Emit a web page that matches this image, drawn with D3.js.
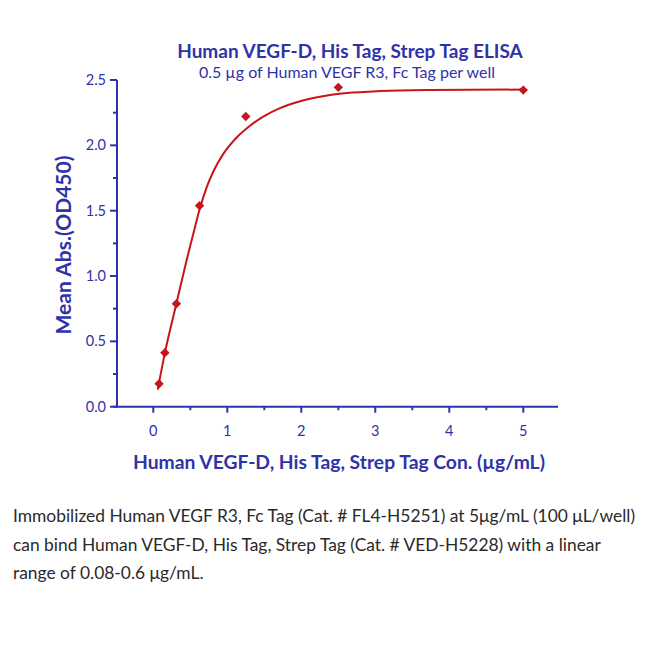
<!DOCTYPE html>
<html><head><meta charset="utf-8">
<script src="https://cdn.jsdelivr.net/npm/d3@7"></script>
<style>body{margin:0;background:#fff}svg{display:block}</style>
</head><body>
<svg id="c" width="650" height="650"></svg>
<script>
const concentrations = [0.078, 0.156, 0.3125, 0.625, 1.25, 2.5, 5];
const meanAbs = [0.176, 0.413, 0.788, 1.538, 2.221, 2.444, 2.423];
const fitX = [0.06, 0.156, 0.3125, 0.45, 0.53, 0.631, 0.722, 0.811, 0.946, 1.127, 1.307, 1.486, 1.712, 1.938, 2.162, 2.388, 2.614, 3.063, 3.739, 5.0];
const fitY = [0.13, 0.41, 0.79, 1.12, 1.30, 1.52, 1.68, 1.80, 1.935, 2.06, 2.15, 2.22, 2.285, 2.33, 2.362, 2.385, 2.40, 2.415, 2.423, 2.427];
const xTicks = [0, 1, 2, 3, 4, 5];
const yTicks = [0.0, 0.5, 1.0, 1.5, 2.0, 2.5];
const title = "Human VEGF-D, His Tag, Strep Tag ELISA";
const subtitle = "0.5 µg of Human VEGF R3, Fc Tag per well";
const xLabel = "Human VEGF-D, His Tag, Strep Tag Con. (µg/mL)";
const yLabel = "Mean Abs.(OD450)";
const caption = [
  "Immobilized Human VEGF R3, Fc Tag (Cat. # FL4-H5251) at 5μg/mL (100 μL/well)",
  "can bind Human VEGF-D, His Tag, Strep Tag (Cat. # VED-H5228) with a linear",
  "range of 0.08-0.6 μg/mL."
];

const blue = "#2f33a8", red = "#c8141b";
const font = "Lato, 'Open Sans', sans-serif";
const svg = d3.select("#c");
const L = 117, R = 558, T = 80, B = 406.7;
const x = d3.scaleLinear().domain([-0.4905, 5.4689]).range([L, R]);
const y = d3.scaleLinear().domain([0, 2.5]).range([B, T]);

// axes
const gx = svg.append("g").attr("transform", `translate(0,${B})`);
gx.append("line").attr("x1", L - 4).attr("x2", R).attr("stroke", blue).attr("stroke-width", 2);
gx.selectAll(".mj").data(xTicks).join("line")
  .attr("x1", d => x(d)).attr("x2", d => x(d)).attr("y1", 0).attr("y2", 6)
  .attr("stroke", blue).attr("stroke-width", 2);
gx.selectAll(".mn").data(xTicks.slice(0, 5).map(d => d + 0.5)).join("line")
  .attr("x1", d => x(d)).attr("x2", d => x(d)).attr("y1", 0).attr("y2", 3.5)
  .attr("stroke", blue).attr("stroke-width", 2);
gx.selectAll("text").data(xTicks).join("text")
  .attr("x", d => x(d)).attr("y", 29).attr("text-anchor", "middle")
  .attr("fill", blue).attr("font-family", font).attr("font-size", 14.5).text(d => d);

const gy = svg.append("g").attr("transform", `translate(${L},0)`);
gy.append("line").attr("y1", T).attr("y2", B + 1).attr("stroke", blue).attr("stroke-width", 2);
gy.selectAll(".mj").data(yTicks).join("line")
  .attr("y1", d => y(d)).attr("y2", d => y(d)).attr("x1", 0).attr("x2", -7)
  .attr("stroke", blue).attr("stroke-width", 2);
gy.selectAll(".mn").data(yTicks.slice(0, 5).map(d => d + 0.25)).join("line")
  .attr("y1", d => y(d)).attr("y2", d => y(d)).attr("x1", 0).attr("x2", -4)
  .attr("stroke", blue).attr("stroke-width", 2);
gy.selectAll("text").data(yTicks).join("text")
  .attr("x", -11).attr("y", d => y(d) + 5).attr("text-anchor", "end")
  .attr("fill", blue).attr("font-family", font).attr("font-size", 14.5).text(d => d.toFixed(1));

// fitted curve
const pts = fitX.map((v, i) => [v, fitY[i]]);
svg.append("path").datum(pts)
  .attr("d", d3.line().x(d => x(d[0])).y(d => y(d[1])).curve(d3.curveMonotoneX))
  .attr("fill", "none").attr("stroke", red).attr("stroke-width", 2);

// markers
svg.selectAll(".pt").data(concentrations.map((c, i) => [c, meanAbs[i]])).join("path")
  .attr("transform", d => `translate(${x(d[0])},${y(d[1])})`)
  .attr("d", d3.symbol(d3.symbolDiamond2, 56))
  .attr("fill", red);

// titles
svg.append("text").attr("x", 350).attr("y", 58).attr("text-anchor", "middle")
  .attr("fill", blue).attr("font-family", font).attr("font-weight", "bold").attr("font-size", 19).text(title);
svg.append("text").attr("x", 347).attr("y", 78).attr("text-anchor", "middle")
  .attr("fill", blue).attr("font-family", font).attr("font-size", 16).text(subtitle);
svg.append("text").attr("x", 339).attr("y", 469).attr("text-anchor", "middle")
  .attr("fill", blue).attr("font-family", font).attr("font-weight", "bold").attr("font-size", 19.3).text(xLabel);
svg.append("text").attr("transform", "translate(71,245) rotate(-90)").attr("text-anchor", "middle")
  .attr("fill", blue).attr("font-family", font).attr("font-weight", "bold").attr("font-size", 21).text(yLabel);

// caption
svg.selectAll(".cap").data(caption).join("text")
  .attr("x", 13).attr("y", (d, i) => 522 + i * 28.5)
  .attr("fill", "#2a2a2a").attr("font-family", font).attr("font-size", 17.4).text(d => d);
</script>
</body></html>
